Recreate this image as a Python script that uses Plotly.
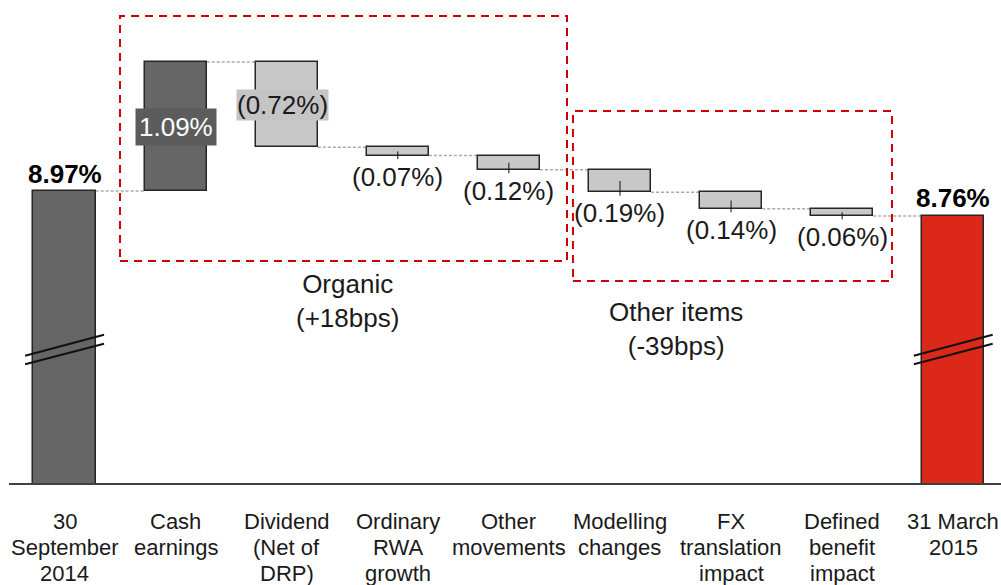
import plotly.graph_objects as go

# ---- data ----
category_lines = [
    ["30", "September", "2014"],
    ["Cash", "earnings"],
    ["Dividend", "(Net of", "DRP)"],
    ["Ordinary", "RWA", "growth"],
    ["Other", "movements"],
    ["Modelling", "changes"],
    ["FX", "translation", "impact"],
    ["Defined", "benefit", "impact"],
    ["31 March", "2015"],
]
start_value = 8.97
end_value = 8.76
changes = [1.09, -0.72, -0.07, -0.12, -0.19, -0.14, -0.06]
start_label = "8.97%"
end_label = "8.76%"
change_labels = ["1.09%", "(0.72%)", "(0.07%)", "(0.12%)", "(0.19%)", "(0.14%)", "(0.06%)"]
group_labels = ["Organic<br>(+18bps)", "Other items<br>(-39bps)"]

# ---- style ----
FONT = "Arial, 'Liberation Sans', sans-serif"
DARK = "#666666"
LIGHT = "#c8c8c8"
RED = "#dc2818"
OUTLINE = "#262626"
BAR_W = 0.56
Y_MIN, Y_MAX = 6.502, 10.585

n = len(category_lines)
xs = list(range(n))

# running levels
levels = [start_value]
for c in changes:
    levels.append(round(levels[-1] + c, 4))

bases, heights, colors = [0], [start_value], [DARK]
for i, c in enumerate(changes):
    lo = min(levels[i], levels[i + 1])
    bases.append(lo)
    heights.append(abs(c))
    colors.append(DARK if c > 0 else LIGHT)
bases.append(0)
heights.append(end_value)
colors.append(RED)

fig = go.Figure()
fig.add_trace(go.Bar(
    x=xs, y=heights, base=bases, width=BAR_W,
    marker=dict(color=colors, line=dict(color=OUTLINE, width=1.5)),
    hoverinfo="skip", showlegend=False,
))

shapes = []
# connectors
for i in range(n - 1):
    lvl = levels[i] if i < len(levels) else end_value
    shapes.append(dict(type="line", xref="x", yref="y",
                       x0=xs[i] + BAR_W / 2, x1=xs[i + 1] - BAR_W / 2, y0=lvl, y1=lvl,
                       line=dict(color="#aaaaaa", width=1.5, dash="3px,2px"), layer="below"))

annotations = []
# change labels and ticks
for i, c in enumerate(changes):
    xi = xs[i + 1]
    top = max(levels[i], levels[i + 1])
    bot = min(levels[i], levels[i + 1])
    mid = (top + bot) / 2
    if abs(c) >= 0.5:
        if c > 0:
            annotations.append(dict(x=xi, y=mid, xref="x", yref="y", text=change_labels[i],
                                    showarrow=False, font=dict(family=FONT, size=26, color="white"),
                                    bgcolor="#5c5c5c", borderpad=3, yanchor="middle"))
        else:
            annotations.append(dict(x=xi, y=mid, xref="x", yref="y", text=change_labels[i],
                                    showarrow=False, font=dict(family=FONT, size=26, color="#1a1a1a"),
                                    bgcolor="#c4c4c4", borderpad=0, xshift=-4, yanchor="middle"))
    else:
        shapes.append(dict(type="line", xref="x", yref="y", x0=xi, x1=xi,
                           y0=mid, y1=bot - 0.03, line=dict(color="#111111", width=1)))
        annotations.append(dict(x=xi, y=bot, xref="x", yref="y", text=change_labels[i],
                                showarrow=False, font=dict(family=FONT, size=26, color="#1a1a1a"),
                                yanchor="middle", yshift=-21))

# start/end labels
annotations.append(dict(x=xs[0], y=start_value, xref="x", yref="y", text="<b>" + start_label + "</b>",
                        showarrow=False, font=dict(family=FONT, size=26, color="black"),
                        yanchor="middle", yshift=17.5))
annotations.append(dict(x=xs[-1], y=end_value, xref="x", yref="y", text="<b>" + end_label + "</b>",
                        showarrow=False, font=dict(family=FONT, size=26, color="black"),
                        yanchor="middle", yshift=17.5))

# broken-axis marks on the total bars
for xi in (xs[0], xs[-1]):
    for (ya, yb) in ((0.2636, 0.3070), (0.2457, 0.2884)):
        shapes.append(dict(type="line", xref="x", yref="paper",
                           x0=xi - 0.355, x1=xi + 0.355, y0=ya, y1=yb,
                           line=dict(color="#111111", width=2)))

# group boxes
shapes.append(dict(type="rect", xref="paper", yref="paper", x0=0.1119, x1=0.5625, y0=0.4596, y1=0.9669,
                   line=dict(color="#cc0000", width=2, dash="8px,6px")))
shapes.append(dict(type="rect", xref="paper", yref="paper", x0=0.5685, x1=0.8901, y0=0.4182, y1=0.7702,
                   line=dict(color="#cc0000", width=2, dash="8px,6px")))

annotations.append(dict(x=0.3417, y=1 - 301 / 483, xref="paper", yref="paper", text=group_labels[0],
                        showarrow=False, font=dict(family=FONT, size=26, color="#1a1a1a"),
                        yanchor="middle"))
annotations.append(dict(x=0.742, y=1 - 329 / 483, xref="paper", yref="paper", text=group_labels[1],
                        showarrow=False, font=dict(family=FONT, size=26, color="#1a1a1a"),
                        yanchor="middle"))

# category labels, one annotation per line
line_shifts = [-38, -64, -90.5]
for xi, lines in zip(xs, category_lines):
    for k, t in enumerate(lines):
        annotations.append(dict(x=xi, y=0, xref="x", yref="paper", text=t, showarrow=False,
                                font=dict(family=FONT, size=22, color="#1a1a1a"),
                                yanchor="middle", yshift=line_shifts[k]))

fig.update_layout(
    width=1001, height=585,
    margin=dict(l=9, r=0, t=0, b=102),
    paper_bgcolor="white", plot_bgcolor="white",
    xaxis=dict(range=[-0.5, 8.43], showticklabels=False, ticks="", showgrid=False,
               zeroline=False, showline=True, linecolor="#404040", linewidth=2, fixedrange=True),
    yaxis=dict(range=[Y_MIN, Y_MAX], visible=False, showgrid=False, zeroline=False, fixedrange=True),
    shapes=shapes, annotations=annotations,
    showlegend=False, bargap=0,
)

fig.write_html("out.html", config={"displayModeBar": False},
               post_script="document.body.style.margin='0';document.body.style.overflow='hidden';")
